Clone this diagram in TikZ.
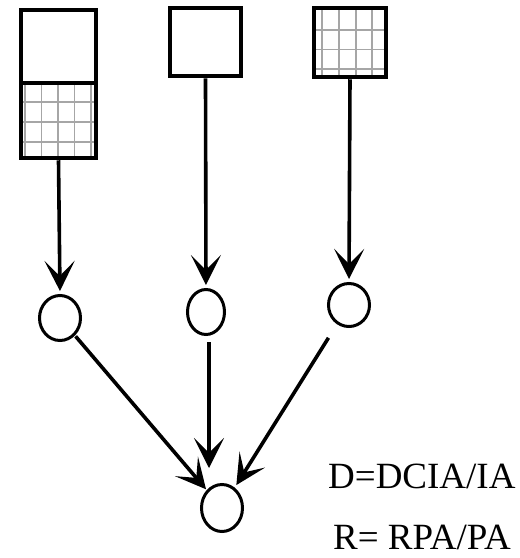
\documentclass[tikz,border=0pt]{standalone}
\usepackage{fontspec}
\setmainfont{Liberation Serif}
\usetikzlibrary{arrows.meta,shapes.geometric}
\begin{document}
\begin{tikzpicture}[x=1pt,y=-1pt,
  boxnode/.style={draw=black,line width=4.5pt,rectangle,inner sep=0pt},
  circnode/.style={draw=black,line width=3pt,ellipse,inner sep=0pt},
  gridline/.style={draw=black!35,line width=1.6pt},
  arr/.style={draw=black,line width=3.6pt,-{Stealth[length=30pt,width=30pt,inset=15pt]}},
  lbl/.style={font=\fontsize{37}{40}\selectfont,inner sep=0pt,anchor=base west}]
\useasboundingbox (0,0) rectangle (520,558);
% grids (drawn first, below the frames)
\begin{scope}
  \clip (21,83) rectangle (96,158);
  \foreach \gx in {25,41.5,58,74.5,91} \draw[gridline] (\gx,83) -- (\gx,158);
  \foreach \gy in {102,122,142} \draw[gridline] (21,\gy) -- (96,\gy);
\end{scope}
\begin{scope}
  \clip (314,8) rectangle (386,77);
  \foreach \gx in {322,339,356,372} \draw[gridline] (\gx,8) -- (\gx,77);
  \foreach \gy in {30,49.5,69} \draw[gridline] (314,\gy) -- (386,\gy);
\end{scope}
% boxes
\node[boxnode,minimum width=75pt,minimum height=73pt] (ltop) at (58.5,46.5) {};
\node[boxnode,minimum width=75pt,minimum height=75pt] (lbot) at (58.5,120.5) {};
\node[boxnode,minimum width=71pt,minimum height=68pt] (mbox) at (205.5,42) {};
\node[boxnode,minimum width=72pt,minimum height=69pt] (rbox) at (350,42.5) {};
% circles
\node[circnode,minimum width=41pt,minimum height=45pt] (lc) at (60,318) {};
\node[circnode,minimum width=37pt,minimum height=45pt] (mc) at (206,312) {};
\node[circnode,minimum width=41pt,minimum height=43pt] (rc) at (349,305) {};
\node[circnode,minimum width=41pt,minimum height=47pt] (bc) at (222,508) {};
% connectors
\draw[arr,shorten >=3pt] (lbot.south) -- (lc.north);
\draw[arr,shorten >=3pt] (mbox.south) -- (mc.north);
\draw[arr,shorten >=3pt] (rbox.south) -- (rc.north);
\draw[arr,shorten <=1pt,shorten >=1pt] (lc) -- (bc);
\draw[arr,shorten <=6pt,shorten >=15pt] ([xshift=3pt]mc.south) -- ([xshift=3pt]mc.south |- bc.north);
\draw[arr,shorten <=16pt,shorten >=3pt] (rc) -- (bc);
% labels
\node[lbl] (t1) at (328,488) {D=DCIA/IA};
\node[lbl] (t2) at (333,549) {R= RPA/PA};
\end{tikzpicture}
\end{document}
